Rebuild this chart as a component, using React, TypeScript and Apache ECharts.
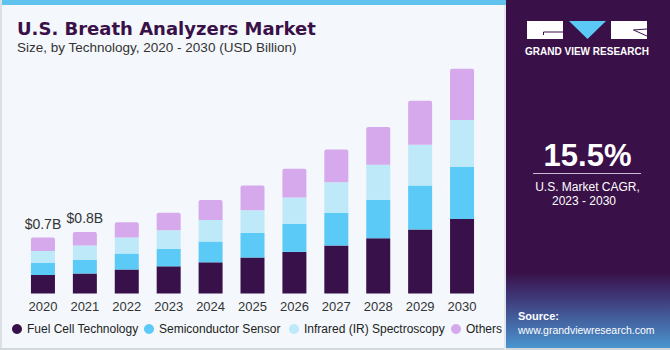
import React, { useEffect, useRef } from "react";
import * as echarts from "echarts";

const years = ["2020", "2021", "2022", "2023", "2024", "2025", "2026", "2027", "2028", "2029", "2030"];
const fuelCell = [0.23, 0.25, 0.3, 0.34, 0.39, 0.45, 0.52, 0.6, 0.69, 0.8, 0.93];
const semiconductor = [0.15, 0.17, 0.2, 0.22, 0.26, 0.31, 0.35, 0.41, 0.48, 0.55, 0.65];
const infrared = [0.15, 0.18, 0.2, 0.23, 0.27, 0.28, 0.33, 0.38, 0.44, 0.51, 0.59];
const others = [0.17, 0.17, 0.19, 0.22, 0.25, 0.31, 0.36, 0.41, 0.47, 0.55, 0.64];
const totalLabels = ["$0.7B", "$0.8B", "", "", "", "", "", "", "", "", ""];
const seriesNames = ["Fuel Cell Technology", "Semiconductor Sensor", "Infrared (IR) Spectroscopy", "Others"];
const colors = ["#38104a", "#5bcaf6", "#bde9f9", "#d5a9ec"];
const legendLefts = [7, 139, 284, 446];

export default function App() {
  const ref = useRef<HTMLDivElement>(null);
  useEffect(() => {
    if (!ref.current) return;
    const chart = echarts.init(ref.current, null, { renderer: "svg" });
    const data = [fuelCell, semiconductor, infrared, others];
    const series = data.map((d, i) => ({
      name: seriesNames[i],
      type: "bar",
      stack: "total",
      barWidth: 24,
      data: d,
      itemStyle: {
        color: colors[i],
        borderRadius: i === 3 ? [2, 2, 0, 0] : 0,
      },
      label:
        i === 3
          ? {
              show: true,
              position: "top",
              distance: 7,
              fontSize: 14,
              fontFamily: "Liberation Sans",
              color: "#333",
              formatter: (p: any) => totalLabels[p.dataIndex],
            }
          : { show: false },
    }));

    const legends = seriesNames.map((n, i) => ({
      data: [n],
      left: legendLefts[i],
      top: 318,
      icon: "circle",
      itemWidth: 10,
      itemHeight: 10,
      textStyle: { fontSize: 12, fontFamily: "Liberation Sans", color: "#222" },
    }));

    const option: any = {
      animation: false,
      backgroundColor: "#f4f8fc",
      grid: { left: 22, right: 187, top: 53.5, bottom: 56.5 },
      xAxis: {
        type: "category",
        data: years,
        axisLine: { show: false },
        axisTick: { show: false },
        axisLabel: { color: "#333", fontSize: 13, fontFamily: "Liberation Sans", margin: 6 },
      },
      yAxis: { type: "value", min: 0, max: 3, show: false, splitLine: { show: false } },
      legend: legends,
      series,
      graphic: [
        { type: "rect", shape: { x: 0, y: 0, width: 506, height: 5 }, style: { fill: "#5fc3ee" }, z: 10 },
        { type: "rect", shape: { x: 0, y: 0, width: 2, height: 350 }, style: { fill: "#dbe0e5" }, z: 10 },
        { type: "rect", shape: { x: 0, y: 348, width: 670, height: 2 }, style: { fill: "#d3d8dd" }, z: 10 },
        { type: "rect", shape: { x: 504, y: 5, width: 2, height: 345 }, style: { fill: "#e2e7ec" }, z: 10 },
        {
          type: "text",
          left: 17,
          top: 19,
          style: { text: "U.S. Breath Analyzers Market", font: "bold 18px 'DejaVu Sans'", fill: "#3a1048" },
          z: 10,
        },
        {
          type: "text",
          left: 17,
          top: 40,
          style: { text: "Size, by Technology, 2020 - 2030 (USD Billion)", font: "13.5px 'Liberation Sans'", fill: "#333" },
          z: 10,
        },
        // right panel
        { type: "rect", shape: { x: 506, y: 0, width: 164, height: 348 }, style: { fill: "#3a1048" }, z: 10 },
        {
          type: "rect",
          shape: { x: 506, y: 272, width: 164, height: 76 },
          style: {
            fill: new echarts.graphic.LinearGradient(0, 0, 0, 1, [
              { offset: 0, color: "#3a1048" },
              { offset: 0.35, color: "#3f3a7a" },
              { offset: 1, color: "#4a95d0" },
            ]),
          },
          z: 10,
        },
        // logo
        { type: "rect", shape: { x: 527, y: 21, width: 36, height: 18 }, style: { fill: "#ffffff" }, z: 11 },
        { type: "polyline", shape: { points: [[563, 32], [543.5, 32], [543.5, 35]] }, style: { stroke: "#3a1048", lineWidth: 1, fill: null }, z: 12 },
        { type: "polygon", shape: { points: [[569, 21], [606, 21], [587.5, 39]] }, style: { fill: "#5bc8f5" }, z: 11 },
        { type: "rect", shape: { x: 611, y: 21, width: 36, height: 18 }, style: { fill: "#ffffff" }, z: 11 },
        { type: "polyline", shape: { points: [[647, 29], [633.5, 30], [647, 36]] }, style: { stroke: "#3a1048", lineWidth: 1, fill: null }, z: 12 },
        {
          type: "text",
          x: 587,
          y: 51,
          style: { text: "GRAND VIEW RESEARCH", font: "bold 10px 'Liberation Sans'", fill: "#ffffff", align: "center", verticalAlign: "middle" },
          z: 12,
        },
        {
          type: "text",
          x: 587.5,
          y: 155,
          style: { text: "15.5%", font: "bold 31px 'Liberation Sans'", fill: "#ffffff", align: "center", verticalAlign: "middle" },
          z: 12,
        },
        { type: "line", shape: { x1: 533, y1: 173.5, x2: 641, y2: 173.5 }, style: { stroke: "#c9b9d3", lineWidth: 1.2 }, z: 12 },
        {
          type: "text",
          x: 587.5,
          y: 187,
          style: { text: "U.S. Market CAGR,", font: "12px 'Liberation Sans'", fill: "#ffffff", align: "center", verticalAlign: "middle" },
          z: 12,
        },
        {
          type: "text",
          x: 584,
          y: 201,
          style: { text: "2023 - 2030", font: "12px 'Liberation Sans'", fill: "#ffffff", align: "center", verticalAlign: "middle" },
          z: 12,
        },
        {
          type: "text",
          x: 518,
          y: 316,
          style: { text: "Source:", font: "bold 11px 'Liberation Sans'", fill: "#ffffff", verticalAlign: "middle" },
          z: 12,
        },
        {
          type: "text",
          x: 518,
          y: 329.5,
          style: { text: "www.grandviewresearch.com", font: "10.5px 'Liberation Sans'", fill: "#ffffff", verticalAlign: "middle" },
          z: 12,
        },
      ],
    };
    chart.setOption(option);
    return () => chart.dispose();
  }, []);
  return <div ref={ref} style={{ position: "absolute", left: 0, top: 0, width: 670, height: 350 }} />;
}
